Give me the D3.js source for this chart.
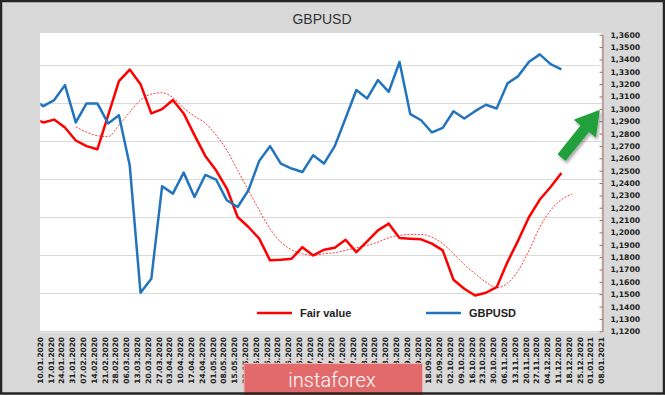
<!DOCTYPE html>
<html>
<head>
<meta charset="utf-8">
<script src="https://cdnjs.cloudflare.com/ajax/libs/d3/7.8.5/d3.min.js"></script>
<style>
  html, body { margin: 0; padding: 0; background: #d9d9d9; }
  svg { display: block; }
</style>
</head>
<body>
<svg id="chart" width="665" height="395"></svg>
<script>
// Weekly axis labels (Fridays)
const tickLabels = [
  "10.01.2020","17.01.2020","24.01.2020","31.01.2020","07.02.2020","14.02.2020","21.02.2020","28.02.2020",
  "06.03.2020","13.03.2020","20.03.2020","27.03.2020","03.04.2020","10.04.2020","17.04.2020","24.04.2020",
  "01.05.2020","08.05.2020","15.05.2020","22.05.2020","29.05.2020","05.06.2020","12.06.2020","19.06.2020",
  "26.06.2020","03.07.2020","10.07.2020","17.07.2020","24.07.2020","31.07.2020","07.08.2020","14.08.2020",
  "21.08.2020","28.08.2020","04.09.2020","11.09.2020","18.09.2020","25.09.2020","02.10.2020","09.10.2020",
  "16.10.2020","23.10.2020","30.10.2020","06.11.2020","13.11.2020","20.11.2020","27.11.2020","04.12.2020",
  "11.12.2020","18.12.2020","25.12.2020","01.01.2021","08.01.2021"
];

// Dates of the data points (weekly, Sundays)
const weeks = [
  "05.01.2020","12.01.2020","19.01.2020","26.01.2020","02.02.2020","09.02.2020","16.02.2020","23.02.2020",
  "01.03.2020","08.03.2020","15.03.2020","22.03.2020","29.03.2020","05.04.2020","12.04.2020","19.04.2020",
  "26.04.2020","03.05.2020","10.05.2020","17.05.2020","24.05.2020","31.05.2020","07.06.2020","14.06.2020",
  "21.06.2020","28.06.2020","05.07.2020","12.07.2020","19.07.2020","26.07.2020","02.08.2020","09.08.2020",
  "16.08.2020","23.08.2020","30.08.2020","06.09.2020","13.09.2020","20.09.2020","27.09.2020","04.10.2020",
  "11.10.2020","18.10.2020","25.10.2020","01.11.2020","08.11.2020","15.11.2020","22.11.2020","29.11.2020",
  "06.12.2020","13.12.2020","20.12.2020"
];

// GBPUSD, from weeks[0]
const gbpusd = [
  1.3080,1.3022,1.3071,1.3192,1.2890,1.3044,1.3044,1.2882,1.2949,1.2544,
  1.1512,1.1625,1.2373,1.2314,1.2484,1.2287,1.2465,1.2428,1.2260,1.2206,
  1.2341,1.2579,1.2698,1.2557,1.2517,1.2489,1.2625,1.2557,1.2698,1.2924,
  1.3152,1.3084,1.3233,1.3138,1.3379,1.2957,1.2908,1.2809,1.2846,1.2981,
  1.2922,1.2981,1.3033,1.3003,1.3206,1.3265,1.3381,1.3441,1.3362,1.3319
];

// Fair value, from weeks[0]
const fairValue = [
  1.2925,1.2890,1.2913,1.2849,1.2744,1.2698,1.2673,1.2947,1.3225,1.3318,
  1.3200,1.2963,1.2998,1.3071,1.2963,1.2787,1.2619,1.2503,1.2355,1.2125,
  1.2044,1.1950,1.1774,1.1779,1.1787,1.1881,1.1814,1.1860,1.1876,1.1941,
  1.1841,1.1928,1.2017,1.2071,1.1954,1.1949,1.1944,1.1909,1.1855,1.1617,
  1.1544,1.1490,1.1512,1.1557,1.1760,1.1936,1.2125,1.2266,1.2368,1.2481
];

// Smoothed fair value (dotted), from weeks[4]
const fairTrend = [
  1.2854,1.2811,1.2783,1.2775,1.2868,1.2973,1.3071,1.3119,1.3130,1.3091,
  1.3006,1.2941,1.2884,1.2787,1.2666,1.2503,1.2341,1.2179,1.2030,1.1922,
  1.1860,1.1828,1.1814,1.1828,1.1836,1.1855,1.1876,1.1895,1.1922,1.1957,
  1.1976,1.1984,1.1984,1.1962,1.1909,1.1828,1.1741,1.1666,1.1598,1.1552,
  1.1589,1.1692,1.1855,1.2043,1.2179,1.2266,1.2309
];
const fairTrendStart = 4;

const yTicks = [
  1.12,1.13,1.14,1.15,1.16,1.17,1.18,1.19,1.20,1.21,1.22,1.23,1.24,
  1.25,1.26,1.27,1.28,1.29,1.30,1.31,1.32,1.33,1.34,1.35,1.36
];
// gridlines belong to the hidden primary axis
const gridValues = [1.10,1.15,1.20,1.25,1.30,1.35,1.40,1.45];

const parse = d3.timeParse("%d.%m.%Y");
const locale = d3.formatLocale({ decimal: ",", thousands: " ", grouping: [3], currency: ["", ""] });
const fmt = locale.format(".4f");

const plot = { left: 40.3, right: 601.5, top: 34.7, bottom: 331.3 };

const svg = d3.select("#chart");

const x = d3.scaleTime()
  .domain([parse(tickLabels[0]), parse(tickLabels[tickLabels.length - 1])])
  .range([plot.left, plot.right]);
const y = d3.scaleLinear().domain([1.12, 1.36]).range([plot.bottom, plot.top]);
const yGrid = d3.scaleLinear().domain([1.10, 1.49]).range([plot.bottom, plot.top]);

// background + frame
svg.append("rect").attr("width", 665).attr("height", 395).attr("fill", "#d9d9d9");

// title
svg.append("text")
  .attr("x", 322).attr("y", 24)
  .attr("text-anchor", "middle")
  .attr("font-family", "Liberation Sans, Arial, sans-serif")
  .attr("font-size", 14)
  .attr("fill", "#333")
  .text("GBPUSD");

// plot area
svg.append("rect")
  .attr("x", 40).attr("y", 33)
  .attr("width", plot.right - 40).attr("height", plot.bottom - 33 + 1)
  .attr("fill", "#fff");

svg.append("g").selectAll("line").data(gridValues).join("line")
  .attr("x1", 40).attr("x2", plot.right)
  .attr("y1", d => Math.round(yGrid(d)) + 0.5).attr("y2", d => Math.round(yGrid(d)) + 0.5)
  .attr("stroke", "#d9d9d9").attr("stroke-width", 1);

svg.append("clipPath").attr("id", "clip")
  .append("rect").attr("x", plot.left).attr("y", 0).attr("width", plot.right - plot.left).attr("height", 395);

const lines = svg.append("g").attr("clip-path", "url(#clip)");

const line = d3.line().x(d => x(d.date)).y(d => y(d.value));
const toPoints = (values, start) => values.map((v, i) => ({ date: d3.timeDay.offset(parse(weeks[start + i]), 0), value: v }));

lines.append("path")
  .datum(toPoints(fairTrend, fairTrendStart))
  .attr("d", line.curve(d3.curveMonotoneX))
  .attr("fill", "none").attr("stroke", "#ff3b3b").attr("stroke-width", 1)
  .attr("stroke-dasharray", "2,1.5");

line.curve(d3.curveLinear);
lines.append("path")
  .datum(toPoints(fairValue, 0))
  .attr("d", line)
  .attr("fill", "none").attr("stroke", "#ff0000").attr("stroke-width", 2.5)
  .attr("stroke-linejoin", "round");

lines.append("path")
  .datum(toPoints(gbpusd, 0))
  .attr("d", line)
  .attr("fill", "none").attr("stroke", "#2274be").attr("stroke-width", 2.5)
  .attr("stroke-linejoin", "round");

// right value axis
const yAxis = svg.append("g")
  .attr("transform", "translate(602.5,0)")
  .call(d3.axisRight(y).tickValues(yTicks).tickFormat(fmt).tickSizeInner(-3).tickSizeOuter(0).tickPadding(8));
yAxis.select(".domain").attr("stroke", "#a56a66");
yAxis.selectAll(".tick line").attr("stroke", "#a56a66");
yAxis.selectAll("text")
  .attr("font-family", "DejaVu Sans, Verdana, sans-serif")
  .attr("font-weight", "bold")
  .attr("font-size", 7.7)
  .attr("fill", "#222");

// category labels
svg.append("g").selectAll("text").data(tickLabels).join("text")
  .attr("transform", d => `translate(${x(parse(d))},337) rotate(-90)`)
  .attr("dy", "0.35em")
  .attr("text-anchor", "end")
  .attr("font-family", "DejaVu Sans, Verdana, sans-serif")
  .attr("font-weight", "bold")
  .attr("font-size", 7.4)
  .attr("fill", "#222")
  .text(d => d);

// legend
const legend = [
  { name: "Fair value", color: "#ff0000", x: 257 },
  { name: "GBPUSD", color: "#2274be", x: 426 }
];
const lg = svg.append("g").selectAll("g").data(legend).join("g")
  .attr("transform", d => `translate(${d.x},313)`);
lg.append("line").attr("x1", 0).attr("x2", 35).attr("stroke", d => d.color).attr("stroke-width", 2.5);
lg.append("text")
  .attr("x", 43).attr("dy", "0.35em")
  .attr("font-family", "Liberation Sans, Arial, sans-serif")
  .attr("font-weight", "bold").attr("font-size", 11)
  .attr("fill", "#222")
  .text(d => d.name);

// green arrow
const defs = svg.append("defs");
const f = defs.append("filter").attr("id", "shadow").attr("x", "-50%").attr("y", "-50%").attr("width", "200%").attr("height", "200%");
f.append("feDropShadow").attr("dx", 1.5).attr("dy", 2.5).attr("stdDeviation", 1.5).attr("flood-color", "#000").attr("flood-opacity", 0.35);

const tail = [562, 157], tip = [599, 111];
const len = Math.hypot(tip[0] - tail[0], tip[1] - tail[1]);
const ux = (tip[0] - tail[0]) / len, uy = (tip[1] - tail[1]) / len;
const nx = -uy, ny = ux;
const headLen = 22, headHalf = 13, shaftHalf = 4.5;
const bx = tip[0] - ux * headLen, by = tip[1] - uy * headLen;
const arrowPts = [
  [tail[0] + nx * shaftHalf, tail[1] + ny * shaftHalf],
  [bx + nx * shaftHalf, by + ny * shaftHalf],
  [bx + nx * headHalf, by + ny * headHalf],
  tip,
  [bx - nx * headHalf, by - ny * headHalf],
  [bx - nx * shaftHalf, by - ny * shaftHalf],
  [tail[0] - nx * shaftHalf, tail[1] - ny * shaftHalf]
];
svg.append("path")
  .attr("d", "M" + arrowPts.map(p => p.join(",")).join("L") + "Z")
  .attr("fill", "#21a03b")
  .attr("stroke", "#21a03b").attr("stroke-width", 1.5).attr("stroke-linejoin", "round")
  .attr("filter", "url(#shadow)");

// instaforex badge
svg.append("rect")
  .attr("x", 244).attr("y", 363.5).attr("width", 178.5).attr("height", 34)
  .attr("fill", "#e36a6b").attr("stroke", "#f2b3b3").attr("stroke-width", 1);
svg.append("text")
  .attr("x", 332).attr("y", 387)
  .attr("text-anchor", "middle")
  .attr("font-family", "Roboto, sans-serif")
  .attr("font-weight", 300).attr("font-size", 20)
  .attr("fill", "#fff")
  .text("instaforex");

// outer frame
svg.append("rect").attr("x", 1).attr("y", 1).attr("width", 663).attr("height", 392.5)
  .attr("fill", "none").attr("stroke", "#262626").attr("stroke-width", 2.5);
</script>
</body>
</html>
